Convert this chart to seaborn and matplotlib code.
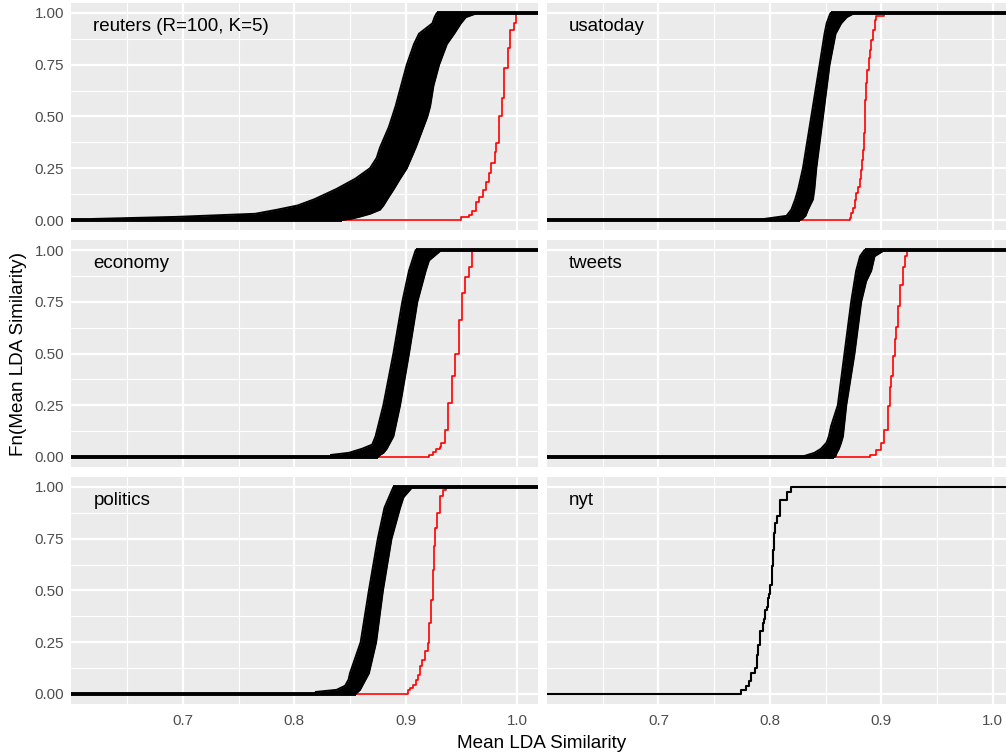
import numpy as np
import matplotlib
matplotlib.use("Agg")
import matplotlib.pyplot as plt
import seaborn as sns

# ---------------- data ----------------
panel_labels = ["reuters (R=100, K=5)", "usatoday", "economy", "tweets", "politics", "nyt"]
x_ticks = [0.7, 0.8, 0.9, 1.0]
x_tick_labels = ["0.7", "0.8", "0.9", "1.0"]
y_ticks = [0.0, 0.25, 0.5, 0.75, 1.0]
y_tick_labels = ["0.00", "0.25", "0.50", "0.75", "1.00"]
x_title = "Mean LDA Similarity"
y_title = "Fn(Mean LDA Similarity)"

# replicate ECDF bundles (R=100): ECDF level, leftmost and rightmost replicate value
reuters_lvl = [0, 0.005, 0.015, 0.03, 0.05, 0.07, 0.1, 0.15, 0.2, 0.25, 0.3, 0.35, 0.45, 0.5, 0.55, 0.65, 0.75, 0.85, 0.9, 0.95, 0.98, 1.0]
reuters_lo = [0.619, 0.619, 0.694, 0.765, 0.785, 0.803, 0.818, 0.838, 0.855, 0.868, 0.874, 0.877, 0.885, 0.888, 0.891, 0.896, 0.901, 0.9075, 0.912, 0.924, 0.926, 0.928]
reuters_hi = [0.843, 0.850, 0.858, 0.868, 0.877, 0.880, 0.8834, 0.8894, 0.895, 0.901, 0.905, 0.909, 0.916, 0.9195, 0.922, 0.925, 0.930, 0.937, 0.9435, 0.9495, 0.954, 0.9645]

usatoday_lvl = [0, 0.005, 0.02, 0.05, 0.1, 0.15, 0.25, 0.5, 0.75, 0.9, 0.95, 0.98, 1.0]
usatoday_lo = [0.795, 0.795, 0.815, 0.8193, 0.8228, 0.8255, 0.8297, 0.8372, 0.8447, 0.8491, 0.851, 0.853, 0.8545]
usatoday_hi = [0.827, 0.829, 0.832, 0.8342, 0.8387, 0.840, 0.8417, 0.8477, 0.8536, 0.8590, 0.8640, 0.8690, 0.876]

economy_lvl = [0, 0.01, 0.02, 0.04, 0.06, 0.1, 0.25, 0.5, 0.75, 0.9, 0.95, 1.0]
economy_lo = [0.833, 0.833, 0.849, 0.861, 0.870, 0.873, 0.880, 0.889, 0.897, 0.903, 0.906, 0.909]
economy_hi = [0.875, 0.877, 0.880, 0.883, 0.885, 0.889, 0.895, 0.903, 0.9105, 0.918, 0.921, 0.932]

tweets_lvl = [0, 0.005, 0.02, 0.04, 0.07, 0.1, 0.15, 0.25, 0.5, 0.75, 0.85, 0.9, 0.97, 1.0]
tweets_lo = [0.831, 0.831, 0.840, 0.846, 0.851, 0.853, 0.855, 0.861, 0.867, 0.873, 0.876, 0.8775, 0.881, 0.885]
tweets_hi = [0.858, 0.859, 0.860, 0.862, 0.864, 0.8656, 0.8666, 0.8686, 0.876, 0.882, 0.8865, 0.891, 0.894, 0.903]

politics_lvl = [0, 0.01, 0.02, 0.04, 0.07, 0.1, 0.25, 0.5, 0.75, 0.9, 0.95, 1.0]
politics_lo = [0.8194, 0.8194, 0.838, 0.8457, 0.8488, 0.850, 0.8596, 0.867, 0.875, 0.881, 0.885, 0.889]
politics_hi = [0.855, 0.857, 0.859, 0.861, 0.864, 0.867, 0.8735, 0.8796, 0.8873, 0.895, 0.898, 0.906]

# observed (red) ECDFs: jump positions and ECDF value after each jump
reuters_red_x = [0.9500, 0.9568, 0.9599, 0.9630, 0.9660, 0.9691, 0.9722, 0.9747, 0.9769, 0.9800, 0.9815, 0.9840, 0.9861, 0.9886, 0.9923, 0.9938, 0.9969, 0.9994]
reuters_red_F = [0.013, 0.024, 0.045, 0.089, 0.113, 0.145, 0.185, 0.226, 0.274, 0.330, 0.371, 0.500, 0.589, 0.734, 0.830, 0.920, 0.950, 1.0]

usatoday_red_x = [0.8715, 0.8730, 0.8745, 0.8760, 0.8775, 0.8790, 0.8805, 0.8820, 0.8826, 0.8835, 0.8841, 0.8850,
                  0.8856, 0.8865, 0.8874, 0.8886, 0.8895, 0.8910, 0.8925, 0.8940, 0.8955, 0.9029]
usatoday_red_F = [0.010, 0.032, 0.056, 0.097, 0.129, 0.161, 0.200, 0.242, 0.290, 0.339, 0.419, 0.500,
                  0.580, 0.661, 0.726, 0.782, 0.823, 0.871, 0.919, 0.968, 0.984, 1.0]

economy_red_x = [0.9210, 0.9244, 0.9275, 0.9306, 0.9321, 0.9352, 0.9383, 0.9414, 0.9444, 0.9475, 0.9506, 0.9537, 0.9568, 0.9599]
economy_red_F = [0.01, 0.025, 0.04, 0.05, 0.068, 0.13, 0.26, 0.39, 0.5, 0.66, 0.79, 0.87, 0.92, 1.0]

tweets_red_x = [0.8895, 0.8955, 0.9000, 0.9029, 0.9059, 0.9074, 0.9089, 0.9104, 0.9119, 0.9134, 0.9149, 0.9164, 0.9194, 0.9209, 0.9230]
tweets_red_F = [0.008, 0.035, 0.068, 0.13, 0.245, 0.34, 0.39, 0.49, 0.57, 0.63, 0.73, 0.83, 0.92, 0.97, 1.0]

politics_red_x = [0.9022, 0.9043, 0.9068, 0.9090, 0.9111, 0.9130, 0.9151, 0.9173, 0.9198, 0.9213, 0.9228, 0.9244, 0.9253, 0.9265, 0.9284, 0.9306, 0.9336, 0.9358]
politics_red_F = [0.018, 0.029, 0.045, 0.07, 0.093, 0.134, 0.166, 0.206, 0.246, 0.343, 0.456, 0.60, 0.713, 0.80, 0.874, 0.955, 0.987, 1.0]

# nyt: a single black ECDF
nyt_x = [0.77455, 0.77844, 0.78084, 0.78293, 0.78683, 0.78832, 0.78952, 0.79132, 0.79341, 0.79491, 0.79581, 0.79701,
         0.7979, 0.7994, 0.8003, 0.8015, 0.8024, 0.8033, 0.8048, 0.8063, 0.8093, 0.8153, 0.8189]
nyt_F = [0.021, 0.040, 0.061, 0.101, 0.126, 0.19, 0.238, 0.303, 0.343, 0.362, 0.407, 0.42,
         0.464, 0.485, 0.528, 0.617, 0.697, 0.778, 0.826, 0.858, 0.936, 0.974, 1.0]

panels = [
    dict(lvl=reuters_lvl, lo=reuters_lo, hi=reuters_hi, rx=reuters_red_x, rF=reuters_red_F),
    dict(lvl=usatoday_lvl, lo=usatoday_lo, hi=usatoday_hi, rx=usatoday_red_x, rF=usatoday_red_F),
    dict(lvl=economy_lvl, lo=economy_lo, hi=economy_hi, rx=economy_red_x, rF=economy_red_F),
    dict(lvl=tweets_lvl, lo=tweets_lo, hi=tweets_hi, rx=tweets_red_x, rF=tweets_red_F),
    dict(lvl=politics_lvl, lo=politics_lo, hi=politics_hi, rx=politics_red_x, rF=politics_red_F),
    dict(bx=nyt_x, bF=nyt_F),
]

# ---------------- style ----------------
sns.set_style("darkgrid", {
    "axes.facecolor": "#EBEBEB",
    "grid.color": "white",
    "axes.edgecolor": "none",
    "xtick.color": "#333333",
    "ytick.color": "#333333",
})
plt.rcParams["font.family"] = ["Liberation Sans", "DejaVu Sans"]

W, H = 1006, 753
fig = plt.figure(figsize=(W / 100, H / 100), dpi=100)
fig.patch.set_facecolor("white")

col_x0 = [71.4, 547.0]
row_top = [2.65, 239.65, 476.65]
pw, ph = 466.2, 227.7

all_vals = np.concatenate([np.r_[p.get("lo", []), p.get("hi", []), p.get("rx", []), p.get("bx", [])] for p in panels])
dmin, dmax = all_vals.min(), all_vals.max()
pad = 0.05 * (dmax - dmin)
xlo, xhi = dmin - pad, dmax + pad

for i, p in enumerate(panels):
    r, c = divmod(i, 2)
    ax = fig.add_axes([col_x0[c] / W, 1 - (row_top[r] + ph) / H, pw / W, ph / H])
    ax.set_facecolor("#EBEBEB")
    ax.set_axisbelow(True)

    if "rx" in p:
        rx = np.asarray(p["rx"]); rF = np.asarray(p["rF"])
        sns.ecdfplot(x=rx, weights=np.diff(np.r_[0.0, rF]), ax=ax, color="red", lw=1.2, zorder=2)
        ax.hlines(0, xlo, rx.min(), color="red", lw=1.2, zorder=2)
        ax.hlines(1, rx.max(), xhi, color="red", lw=1.2, zorder=2)

        lvl = np.asarray(p["lvl"]); lo = np.asarray(p["lo"]); hi = np.asarray(p["hi"])
        ax.fill_betweenx(lvl, lo, hi, color="black", lw=0, zorder=3)
        ax.plot(lo, lvl, color="black", lw=1.4, zorder=3, solid_joinstyle="miter")
        ax.plot(hi, lvl, color="black", lw=1.4, zorder=3, solid_joinstyle="miter")
        ax.hlines(0, xlo, hi[0], color="black", lw=2.8, zorder=3)
        ax.hlines(1, lo[-1], xhi, color="black", lw=2.8, zorder=3)
    else:
        bx = np.asarray(p["bx"]); bF = np.asarray(p["bF"])
        sns.ecdfplot(x=bx, weights=np.diff(np.r_[0.0, bF]), ax=ax, color="black", lw=1.5, zorder=3)
        ax.hlines(0, xlo, bx.min(), color="black", lw=1.5, zorder=3)
        ax.hlines(1, bx.max(), xhi, color="black", lw=1.5, zorder=3)

    ax.set_xlim(xlo, xhi)
    ax.set_ylim(-0.05, 1.05)
    ax.set_xticks(x_ticks)
    ax.set_xticks([0.65, 0.75, 0.85, 0.95], minor=True)
    ax.set_yticks(y_ticks)
    ax.set_yticks([0.125, 0.375, 0.625, 0.875], minor=True)
    ax.grid(True, which="major", color="white", lw=1.6)
    ax.grid(True, which="minor", color="white", lw=0.8)
    ax.set_xlabel(""); ax.set_ylabel("")
    for s in ax.spines.values():
        s.set_visible(False)

    ax.tick_params(which="minor", length=0)
    ax.tick_params(axis="both", which="major", length=3.1, width=1.3, color="#333333",
                   labelcolor="#4D4D4D", labelsize=10.9)
    ax.tick_params(axis="x", pad=3.6)
    ax.tick_params(axis="y", pad=2.2)
    if r == 2:
        ax.set_xticklabels(x_tick_labels)
    else:
        ax.tick_params(axis="x", length=0, labelbottom=False)
    if c == 0:
        ax.set_yticklabels(y_tick_labels)
    else:
        ax.tick_params(axis="y", length=0, labelleft=False)

    ax.text(0.047, 0.895, panel_labels[i], transform=ax.transAxes, ha="left", va="center",
            fontsize=13.5, color="black")

fig.text(542 / W, 1 - 747.5 / H, x_title, ha="center", va="baseline", fontsize=13.6, color="black")
fig.text(18.5 / W, 1 - 353.5 / H, y_title, ha="center", va="center", rotation=90, fontsize=13.6, color="black")

fig.savefig("out.png", dpi=100)
